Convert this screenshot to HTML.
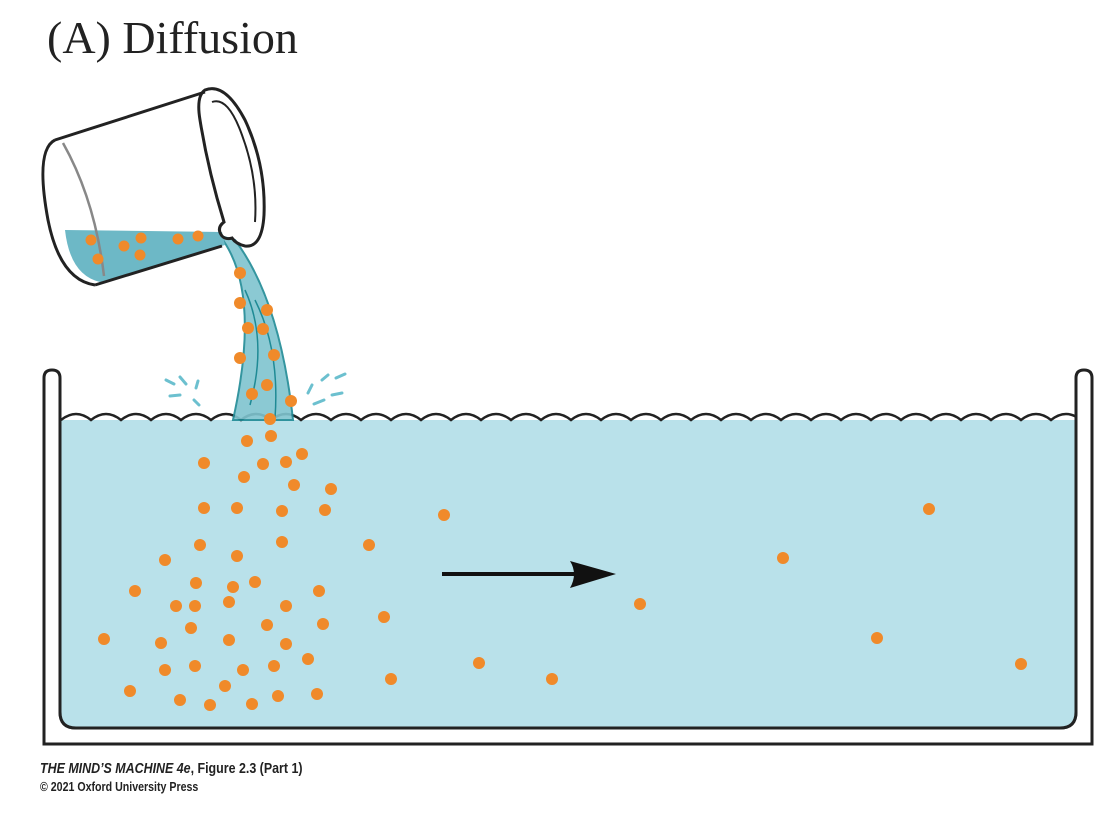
<!DOCTYPE html>
<html><head><meta charset="utf-8"><style>
html,body{margin:0;padding:0;background:#fff;width:1116px;height:814px;overflow:hidden}
svg{display:block}
</style></head><body>
<svg width="1116" height="814" viewBox="0 0 1116 814" xmlns="http://www.w3.org/2000/svg">
<defs><clipPath id="c"><rect x="61" y="395" width="1015" height="40"/></clipPath></defs>
<text x="47" y="53" font-family="Liberation Serif, serif" font-size="46" fill="#222">(A)  Diffusion</text>

<!-- tank outer -->
<path d="M44,378 Q44,370 52,370 Q60,370 60,378 L60,712 Q60,728 76,728 L1060,728 Q1076,728 1076,712 L1076,378 Q1076,370 1084,370 Q1092,370 1092,378 L1092,744 L44,744 Z" fill="#fff" stroke="#222" stroke-width="3"/>
<path d="M61,420 L1075,420 L1075,712 Q1075,727 1060,727 L76,727 Q61,727 61,712 Z" fill="#b9e1ea"/>
<path d="M60,378 L60,712 Q60,728 76,728 L1060,728 Q1076,728 1076,712 L1076,378" fill="none" stroke="#222" stroke-width="3"/>
<g clip-path="url(#c)">
<path d="M61,420 q15,-12 30,0 q15,-12 30,0 q15,-12 30,0 q15,-12 30,0 q15,-12 30,0 q15,-12 30,0 q15,-12 30,0 q15,-12 30,0 q15,-12 30,0 q15,-12 30,0 q15,-12 30,0 q15,-12 30,0 q15,-12 30,0 q15,-12 30,0 q15,-12 30,0 q15,-12 30,0 q15,-12 30,0 q15,-12 30,0 q15,-12 30,0 q15,-12 30,0 q15,-12 30,0 q15,-12 30,0 q15,-12 30,0 q15,-12 30,0 q15,-12 30,0 q15,-12 30,0 q15,-12 30,0 q15,-12 30,0 q15,-12 30,0 q15,-12 30,0 q15,-12 30,0 q15,-12 30,0 q15,-12 30,0 q15,-12 30,0 q15,-12 30,0" fill="none" stroke="#222" stroke-width="2.5"/>
</g>

<!-- stream -->
<path d="M220,236 Q262,290 233,420 L293,420 Q280,300 235,240 Z" fill="#7fc4cf" stroke="#1f8a95" stroke-width="2" opacity="0.9"/>
<path d="M245,290 Q268,340 250,405 M255,300 Q280,350 275,418" stroke="#1f8a95" stroke-width="1.5" fill="none"/>
<g stroke="#6cc0cf" stroke-width="3" stroke-linecap="round">
<path d="M166,380 l8,4 M180,377 l6,7 M198,381 l-2,7 M170,396 l10,-1 M194,400 l5,5"/>
<path d="M308,393 l4,-8 M322,380 l6,-5 M336,378 l9,-4 M314,404 l10,-4 M332,395 l10,-2"/>
</g>

<!-- beaker -->
<path d="M65,230 L222,232 L225,245 L100,282 Q70,275 65,230 Z" fill="#6db8c6"/>
<path d="M55,140 L205,92 M95,285 L222,246 M55,140 Q35,150 48,220 Q60,280 95,285" fill="none" stroke="#222" stroke-width="3"/>
<path d="M63,143 Q95,200 104,276" fill="none" stroke="#888" stroke-width="2.5"/>
<path d="M205,90 Q225,82 245,120 Q266,165 264,215 Q262,248 245,246 Q236,244 232,238 Q226,240 222,236 Q216,228 224,222 Q208,170 200,120 Q196,96 205,90 Z" fill="none" stroke="#222" stroke-width="3"/>
<path d="M212,102 Q228,96 242,135 Q258,178 255,222" fill="none" stroke="#222" stroke-width="2"/>

<g fill="#f08a2a">
<circle cx="91" cy="240" r="5.5"/><circle cx="98" cy="259" r="5.5"/><circle cx="124" cy="246" r="5.5"/><circle cx="141" cy="238" r="5.5"/><circle cx="140" cy="255" r="5.5"/><circle cx="178" cy="239" r="5.5"/><circle cx="198" cy="236" r="5.5"/>
<circle cx="240" cy="273" r="6"/><circle cx="240" cy="303" r="6"/><circle cx="267" cy="310" r="6"/><circle cx="248" cy="328" r="6"/><circle cx="263" cy="329" r="6"/><circle cx="240" cy="358" r="6"/><circle cx="274" cy="355" r="6"/><circle cx="267" cy="385" r="6"/><circle cx="252" cy="394" r="6"/><circle cx="291" cy="401" r="6"/><circle cx="270" cy="419" r="6"/><circle cx="247" cy="441" r="6"/><circle cx="271" cy="436" r="6"/>
<circle cx="204" cy="463" r="6"/><circle cx="263" cy="464" r="6"/><circle cx="286" cy="462" r="6"/><circle cx="302" cy="454" r="6"/><circle cx="244" cy="477" r="6"/><circle cx="294" cy="485" r="6"/><circle cx="331" cy="489" r="6"/><circle cx="204" cy="508" r="6"/><circle cx="237" cy="508" r="6"/><circle cx="282" cy="511" r="6"/><circle cx="325" cy="510" r="6"/><circle cx="444" cy="515" r="6"/><circle cx="929" cy="509" r="6"/><circle cx="200" cy="545" r="6"/><circle cx="282" cy="542" r="6"/><circle cx="237" cy="556" r="6"/><circle cx="369" cy="545" r="6"/><circle cx="165" cy="560" r="6"/><circle cx="783" cy="558" r="6"/><circle cx="135" cy="591" r="6"/><circle cx="196" cy="583" r="6"/><circle cx="233" cy="587" r="6"/><circle cx="255" cy="582" r="6"/><circle cx="319" cy="591" r="6"/><circle cx="176" cy="606" r="6"/><circle cx="195" cy="606" r="6"/><circle cx="229" cy="602" r="6"/><circle cx="286" cy="606" r="6"/><circle cx="640" cy="604" r="6"/><circle cx="384" cy="617" r="6"/><circle cx="191" cy="628" r="6"/><circle cx="267" cy="625" r="6"/><circle cx="323" cy="624" r="6"/><circle cx="104" cy="639" r="6"/><circle cx="161" cy="643" r="6"/><circle cx="229" cy="640" r="6"/><circle cx="286" cy="644" r="6"/><circle cx="877" cy="638" r="6"/><circle cx="165" cy="670" r="6"/><circle cx="195" cy="666" r="6"/><circle cx="243" cy="670" r="6"/><circle cx="274" cy="666" r="6"/><circle cx="308" cy="659" r="6"/><circle cx="479" cy="663" r="6"/><circle cx="1021" cy="664" r="6"/><circle cx="130" cy="691" r="6"/><circle cx="225" cy="686" r="6"/><circle cx="180" cy="700" r="6"/><circle cx="210" cy="705" r="6"/><circle cx="252" cy="704" r="6"/><circle cx="278" cy="696" r="6"/><circle cx="317" cy="694" r="6"/><circle cx="391" cy="679" r="6"/><circle cx="552" cy="679" r="6"/>
</g>

<path d="M442,574 L580,574" stroke="#111" stroke-width="4"/>
<path d="M570,561 L616,574 L570,588 Q578,574 570,561 Z" fill="#111"/>

<text x="40" y="773" font-family="Liberation Sans, sans-serif" font-size="15" font-weight="bold" fill="#222" transform="translate(40 0) scale(0.83,1) translate(-40 0)"><tspan font-style="italic">THE MIND’S MACHINE 4e</tspan>, Figure 2.3 (Part 1)</text>
<text x="40" y="791" font-family="Liberation Sans, sans-serif" font-size="12.5" font-weight="bold" fill="#222" transform="translate(40 0) scale(0.85,1) translate(-40 0)">© 2021 Oxford University Press</text>
</svg>
</body></html>
